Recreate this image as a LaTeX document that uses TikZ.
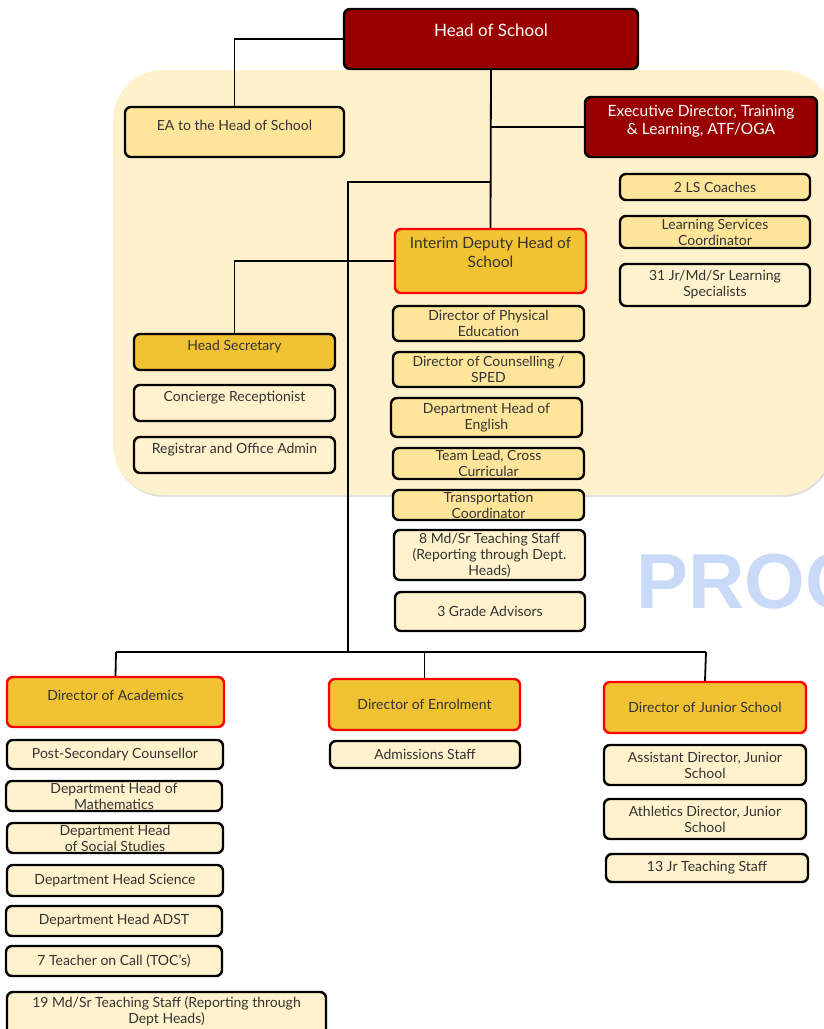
\documentclass[tikz,border=0pt]{standalone}
\usepackage{fontspec}
\setmainfont{Lato}
\usetikzlibrary{backgrounds,shadows}
\definecolor{hosred}{HTML}{990000}
\definecolor{gold}{HTML}{F1C232}
\definecolor{lightgold}{HTML}{FFE599}
\definecolor{palegold}{HTML}{FFF2CC}
\definecolor{panelfill}{HTML}{FFF1CC}
\definecolor{wmblue}{HTML}{C9DAF8}
\definecolor{textgray}{HTML}{333333}
\newcommand{\wm}{\fontspec{Liberation Sans}\bfseries\fontsize{78}{78}\selectfont}

\begin{document}
\begin{tikzpicture}[x=1pt,y=-1pt,
    box/.style={draw=black,line width=2.4pt,rounded corners=6pt,align=center,inner sep=0pt,
      text=textgray,font=\fontsize{14}{16}\selectfont},
    sz/.style 2 args={minimum width=#1-2pt,minimum height=#2-2pt},
    lift/.style={text depth=#1},
    chief/.style={box,fill=hosred,text=white},
    lead/.style={box,fill=gold,draw=red},
    dept/.style={box,fill=lightgold},
    staff/.style={box,fill=palegold},
    link/.style={draw=black,line width=1.8pt}]
  \useasboundingbox (0,0) rectangle (824,1029);

  \node[chief,sz={296}{62},lift=17.5pt,font=\fontsize{17}{20}\selectfont](hos) at (491,39) {Head of School};
  \node[dept,sz={221}{52},lift=13.5pt](ea) at (234.5,132) {EA to the Head of School};
  \node[chief,sz={234}{62},lift=14pt,font=\fontsize{15.5}{18}\selectfont](exec) at (701,127) {Executive Director, Training\\\& Learning, ATF/OGA};
  \node[dept,sz={192}{28}](ls) at (715,187) {2 LS Coaches};
  \node[dept,sz={192}{34}](lsc) at (715,232) {Learning Services\\Coordinator};
  \node[staff,sz={192}{44}](lspec) at (715,285) {31 Jr/Md/Sr Learning\\Specialists};

  \node[lead,sz={193}{66},lift=17pt,font=\fontsize{15.5}{19}\selectfont](dep) at (490.5,261) {Interim Deputy Head of\\School};
  \node[box,fill=gold,sz={203}{38},lift=13.5pt](sec) at (234.5,352) {Head Secretary};
  \node[staff,sz={203}{38},lift=13.5pt](conc) at (234.5,403) {Concierge Receptionist};
  \node[staff,sz={203}{38},lift=13.5pt](reg) at (234.5,455) {Registrar and Office Admin};

  \node[dept,sz={193}{37}](pe) at (488.5,323.5) {Director of Physical\\Education};
  \node[dept,sz={193}{37}](couns) at (488.5,369.5) {Director of Counselling /\\SPED};
  \node[dept,sz={193}{41}](eng) at (486.5,417.5) {Department Head of\\English};
  \node[dept,sz={193}{33}](team) at (488.5,463.5) {Team Lead, Cross\\Curricular};
  \node[dept,sz={193}{32}](trans) at (488.5,505) {Transportation\\Coordinator};
  \node[staff,sz={193}{52}](mdsr) at (489.5,555) {8 Md/Sr Teaching Staff\\(Reporting through Dept.\\Heads)};
  \node[staff,sz={192}{41}](grade) at (490,611.5) {3 Grade Advisors};

  \node[lead,sz={219}{52},lift=13.5pt](acad) at (115.5,702) {Director of Academics};
  \node[lead,sz={193}{53}](enrol) at (424.5,704.5) {Director of Enrolment};
  \node[lead,sz={204}{53}](junior) at (705,707.5) {Director of Junior School};

  \node[staff,sz={218}{31}](post) at (115,754.5) {Post-Secondary Counsellor};
  \node[staff,sz={218}{32}](math) at (114,796) {Department Head of\\Mathematics};
  \node[staff,sz={218}{32}](soc) at (115,838) {Department Head\\of Social Studies};
  \node[staff,sz={218}{33}](sci) at (115,880.5) {Department Head Science};
  \node[staff,sz={218}{32}](adst) at (114,921) {Department Head ADST};
  \node[staff,sz={218}{32}](toc) at (114,961) {7 Teacher on Call (TOC's)};
  \node[staff,sz={321}{48},lift=10pt](mdsr19) at (166.5,1015) {19 Md/Sr Teaching Staff (Reporting through\\Dept Heads)};

  \node[staff,sz={192}{29}](adm) at (425,754.5) {Admissions Staff};
  \node[staff,sz={204}{42}](asst) at (705,765) {Assistant Director, Junior\\School};
  \node[staff,sz={204}{42}](ath) at (705,819) {Athletics Director, Junior\\School};
  \node[staff,sz={204}{30}](jr13) at (707,868) {13 Jr Teaching Staff};

  \node[text=wmblue,font=\wm,anchor=base west,inner sep=0pt](wmark) at (636,608) {PROC};

  \coordinate (execjoin) at (491,127);
  \coordinate (trunk) at (491,182);
  \coordinate (trunktop) at (348,182);
  \coordinate (bus) at (348,652);
  \coordinate (busL) at (116,652);
  \coordinate (busR) at (706,652);

  \begin{scope}[on background layer]
    \fill[panelfill,rounded corners=50pt,drop shadow={opacity=0.25,shadow xshift=1pt,shadow yshift=-2pt}]
      (113,70) rectangle (832,495);
    \path[link] (hos.west) -| (ea.north);
    \path[link] (hos.south) -- (dep.north);
    \path[link] (execjoin) -- (exec.west);
    \path[link] (trunk) -- (trunktop) -- (bus);
    \path[link] (dep.west) -| (sec.north);
    \path[link] (busL) -- (busR);
    \path[link] (busL) -- (acad.north);
    \path[link] (enrol.north |- busL) -- (enrol.north);
    \path[link] (busR) -- (junior.north);
  \end{scope}
\end{tikzpicture}
\end{document}
